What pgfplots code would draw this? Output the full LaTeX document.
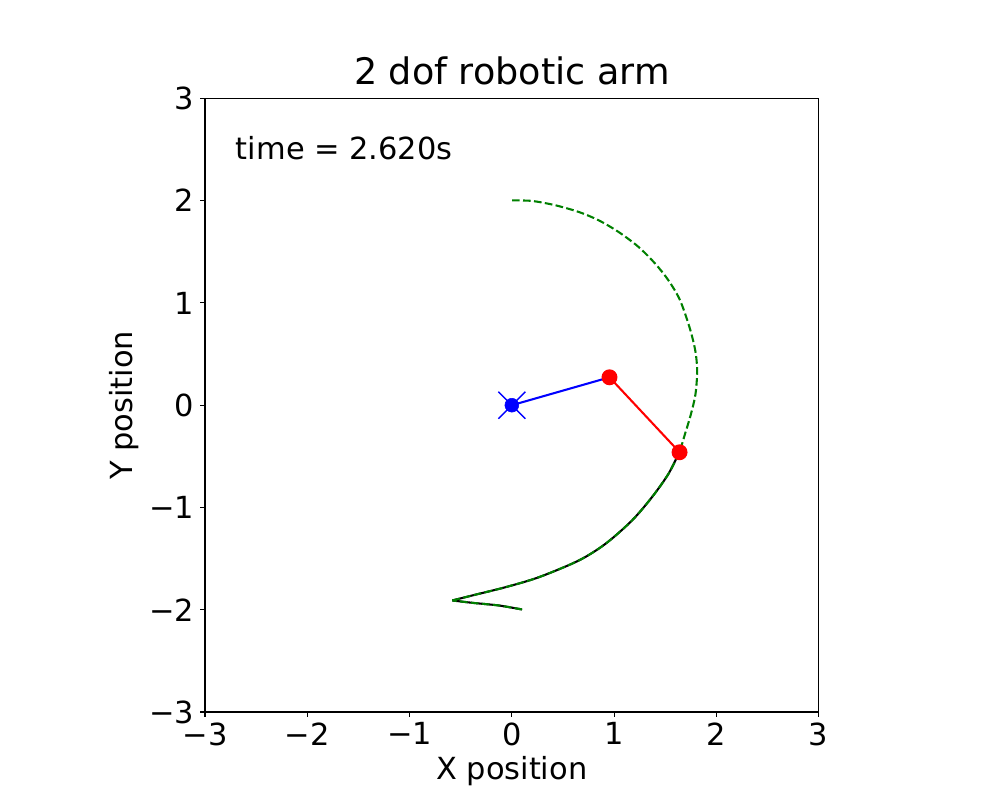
\documentclass[border=0pt]{standalone}
\usepackage{pgfplots}
\pgfplotsset{compat=1.18}
\usepackage{fontspec}
\setmainfont{DejaVu Sans}
\definecolor{mgreen}{RGB}{0,128,0}
\definecolor{mblue}{RGB}{0,0,255}
\definecolor{mred}{RGB}{255,0,0}
\begin{document}
\begin{tikzpicture}
\begin{axis}[name=ax, scale only axis, width=443.5pt, height=443.5pt,
  xmin=-3, xmax=3, ymin=-3, ymax=3,
  xtick={-3,-2,-1,0,1,2,3}, ytick={-3,-2,-1,0,1,2,3},
  xticklabels={−3,−2,−1,0,1,2,3}, yticklabels={−3,−2,−1,0,1,2,3},
  tick align=outside, tick pos=left, major tick length=3.5pt,
  every tick/.style={line width=0.8pt, black},
  axis line style={line width=0.8pt},
  ticklabel style={font=\fontsize{22}{26}\selectfont},
  xticklabel style={inner sep=4pt},
  yticklabel style={inner sep=4pt},
  label style={font=\fontsize{22}{26}\selectfont},
  title={2 dof robotic arm},
  title style={font=\fontsize{26.4}{30}\selectfont},
  xlabel={X position}, ylabel={Y position},
  clip=false,
]
% trajectory so far (black)
\addplot[black, line width=1.5pt, smooth, tension=0.4] coordinates {
  (0.100,-1.997) (-0.127,-1.958) (-0.387,-1.932) (-0.581,-1.909)
};
\addplot[black, line width=1.5pt, smooth, tension=0.5] coordinates {
  (-0.581,-1.909) (-0.387,-1.860) (-0.061,-1.779) (0.263,-1.682)
  (0.653,-1.519) (0.913,-1.357) (1.172,-1.130) (1.367,-0.903)
  (1.529,-0.675) (1.635,-0.464)
};
% desired path (green dashed)
\addplot[mgreen, line width=1.5pt, dash pattern=on 5.55pt off 2.4pt, smooth, tension=0.4] coordinates {
  (0.100,-1.997) (-0.127,-1.958) (-0.387,-1.932) (-0.581,-1.909)
};
\addplot[mgreen, line width=1.5pt, dash pattern=on 5.55pt off 2.4pt, smooth, tension=0.5] coordinates {
  (-0.581,-1.909) (-0.387,-1.860) (-0.061,-1.779) (0.263,-1.682)
  (0.653,-1.519) (0.913,-1.357) (1.172,-1.130) (1.367,-0.903)
  (1.529,-0.675) (1.635,-0.464) (1.692,-0.285) (1.750,-0.091)
  (1.795,0.104) (1.812,0.331) (1.795,0.526) (1.740,0.753)
  (1.643,1.030) (1.529,1.224) (1.400,1.386) (1.237,1.549)
  (1.042,1.695) (0.847,1.809) (0.653,1.890) (0.425,1.955)
  (0.198,1.997) (-0.013,2.003)
};
% arm
\addplot[mblue, line width=1.5pt] coordinates {(0,0) (0.955,0.273)};
\addplot[mred, line width=1.5pt, mark=*, mark size=5pt, mark options={solid, fill=mred, draw=mred}] coordinates {(0.955,0.273) (1.64,-0.46)};
\addplot[only marks, mark=*, mark size=5pt, mark options={fill=mblue, draw=mblue}] coordinates {(0,0)};
\addplot[only marks, mark=x, mark size=13.8pt, mark options={draw=mblue, line width=1pt}] coordinates {(0,0)};
\node[anchor=base west, font=\fontsize{22}{26}\selectfont, inner sep=0pt] at (axis cs:-2.7,2.4) {time = 2.620s};
\end{axis}
\path (ax.south west) ++(-148.15pt,-63.6pt) rectangle ++(722.7pt,578.2pt);
\end{tikzpicture}
\end{document}
